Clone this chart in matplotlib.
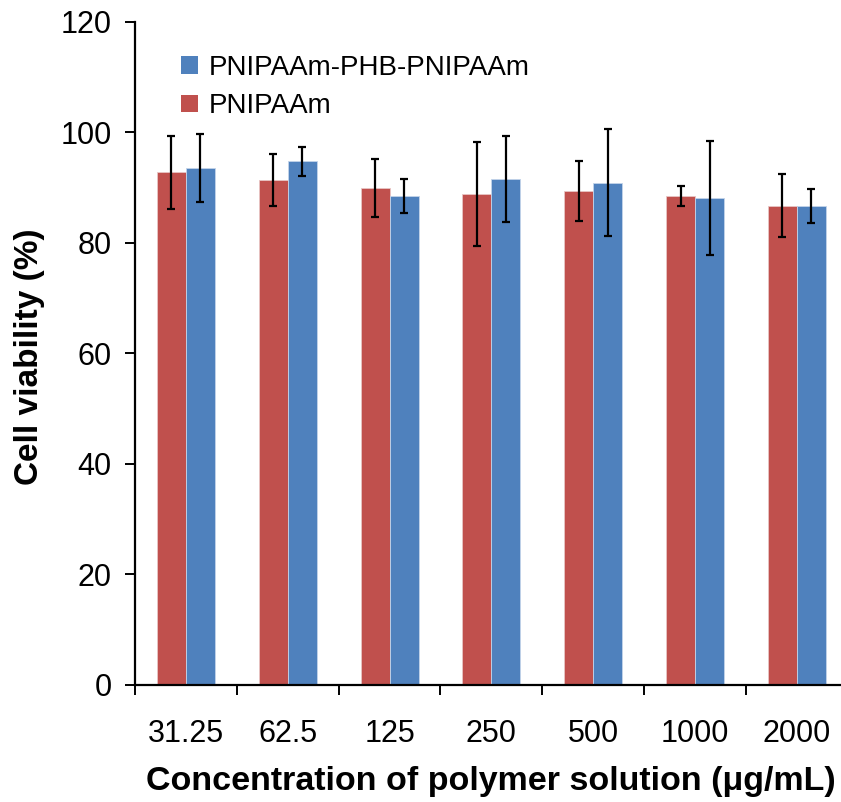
import matplotlib
matplotlib.use("Agg")
import matplotlib.pyplot as plt
import numpy as np
from matplotlib.patches import Patch

plt.rcParams['font.family'] = ['Liberation Sans', 'DejaVu Sans']

concentrations = ["31.25", "62.5", "125", "250", "500", "1000", "2000"]
pnipaam = [92.8, 91.3, 89.9, 88.8, 89.3, 88.5, 86.7]
pnipaam_err = [6.6, 4.7, 5.3, 9.4, 5.45, 1.85, 5.7]
triblock = [93.5, 94.75, 88.4, 91.5, 90.9, 88.1, 86.7]
triblock_err = [6.1, 2.65, 3.1, 7.75, 9.7, 10.35, 3.1]

red = "#C0504D"
blue = "#4F81BD"

W, H = 841, 802
fig = plt.figure(figsize=(W / 100, H / 100), dpi=100)
left_px, right_px = 135, 847.8
bottom_px, top_px = 684.7, 21.8
ax = fig.add_axes([left_px / W, 1 - bottom_px / H,
                   (right_px - left_px) / W, (bottom_px - top_px) / H])

x = np.arange(len(concentrations))
bw = 0.285
err_kw = dict(ecolor="black", elinewidth=1.6, capsize=3.2, capthick=1.6)
ax.bar(x - bw / 2, pnipaam, bw, color=red, edgecolor="#e8c6c5", linewidth=0.6,
       yerr=pnipaam_err, error_kw=err_kw, zorder=2)
ax.bar(x + bw / 2, triblock, bw, color=blue, edgecolor="#c3d4ea", linewidth=0.6,
       yerr=triblock_err, error_kw=err_kw, zorder=2)

ax.set_xlim(-0.5, len(concentrations) - 0.5)
ax.set_ylim(0, 120)
ax.set_yticks(np.arange(0, 121, 20))
ax.set_xticks(np.arange(-0.5, len(concentrations), 1.0))
ax.set_xticklabels([])
ax.set_xticks(x, minor=True)
ax.set_xticklabels(concentrations, minor=True)

for s in ("top", "right"):
    ax.spines[s].set_visible(False)
for s in ("left", "bottom"):
    ax.spines[s].set_linewidth(1.6)

ax.tick_params(axis="y", which="major", direction="out", length=7, width=1.4,
               labelsize=22, pad=10)
ax.tick_params(axis="x", which="major", direction="out", length=7, width=1.4)
ax.tick_params(axis="x", which="minor", length=0, labelsize=22, pad=25)

fig.text(30 / W, 1 - 357 / H, "Cell viability (%)", rotation=90,
         fontsize=24, fontweight="bold", ha="center", va="center")
fig.text(491 / W, 1 - 790 / H, "Concentration of polymer solution (\u03bcg/mL)",
         fontsize=24.5, fontweight="bold", ha="center", va="baseline")

handles = [Patch(facecolor=blue, edgecolor="none", label="PNIPAAm-PHB-PNIPAAm"),
           Patch(facecolor=red, edgecolor="none", label="PNIPAAm")]
fig.legend(handles=handles, loc="upper left",
           bbox_to_anchor=(181 / W, 1 - 55 / H), frameon=False, fontsize=20,
           handlelength=0.6, handleheight=0.6, handletextpad=0.4,
           labelspacing=0.44, borderpad=0, borderaxespad=0)

fig.savefig("out.png", dpi=100)
